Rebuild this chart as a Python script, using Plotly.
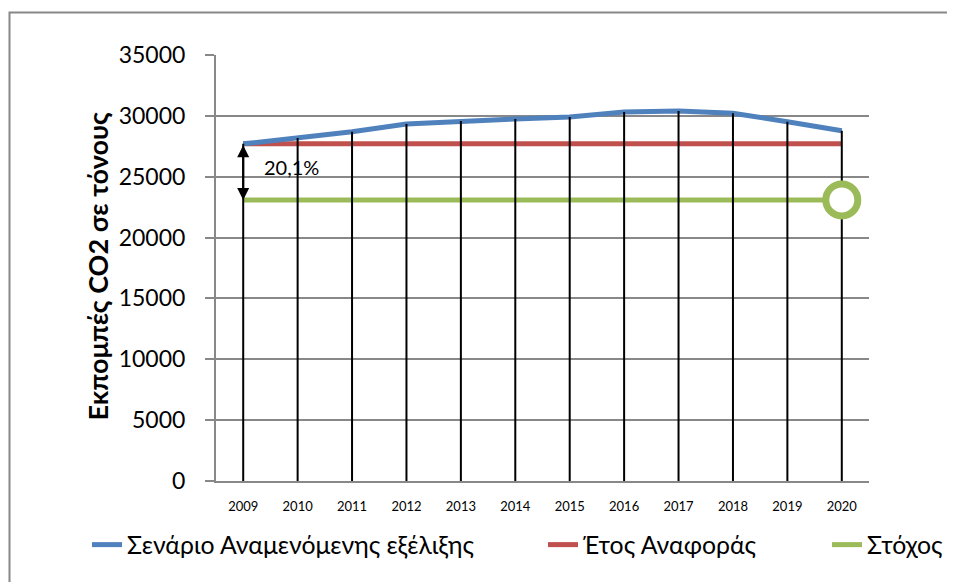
import plotly.graph_objects as go

YEARS = ["2009", "2010", "2011", "2012", "2013", "2014", "2015", "2016", "2017", "2018", "2019", "2020"]
SCENARIO = [27700, 28180, 28700, 29330, 29580, 29740, 29900, 30320, 30400, 30210, 29520, 28780]
REFERENCE = [27700, 27700, 27700, 27700, 27700, 27700, 27700, 27700, 27700, 27700, 27700, 27700]
TARGET = [23090, 23090, 23090, 23090, 23090, 23090, 23090, 23090, 23090, 23090, 23090, 23090]
Y_TICKS = [0, 5000, 10000, 15000, 20000, 25000, 30000, 35000]
NAMES = ["Σενάριο Αναμενόμενης εξέλιξης", "Έτος Αναφοράς", "Στόχος"]
Y_TITLE = "Εκπομπές CO2 σε τόνους"
GAP_LABEL = "20,1%"

BLUE = "#4F81BD"
RED = "#C0504D"
GREEN = "#9BBB59"
GRID = "#888888"
FONT = "Lato"

OFF = 8  # default page body margin
W, H = 955 - OFF, 582 - OFF
L, R, T, B = 216 - OFF, 869 - OFF, 55 - OFF, 481 - OFF  # plot area in figure pixels


def px(x):
    return (x - OFF - L) / (R - L)


def py(y):
    return (B - (y - OFF)) / (B - T)


idx = list(range(len(YEARS)))

fig = go.Figure()

fig.add_trace(go.Scatter(x=idx, y=TARGET, mode="lines", name=NAMES[2], legend="legend3",
                         line=dict(color=GREEN, width=5)))
fig.add_trace(go.Scatter(x=idx, y=REFERENCE, mode="lines", name=NAMES[1], legend="legend2",
                         line=dict(color=RED, width=5)))
fig.add_trace(go.Scatter(x=idx, y=SCENARIO, mode="lines", name=NAMES[0], legend="legend",
                         line=dict(color=BLUE, width=5)))

# drop lines from axis to scenario values
dx, dy = [], []
for i, v in zip(idx, SCENARIO):
    dx += [i, i, None]
    dy += [0, v, None]
fig.add_trace(go.Scatter(x=dx, y=dy, mode="lines", showlegend=False, hoverinfo="skip",
                         line=dict(color="black", width=2)))

# target marker at final year
fig.add_trace(go.Scatter(x=[idx[-1]], y=[TARGET[-1]], mode="markers", showlegend=False,
                         marker=dict(size=32, color="white", symbol="circle",
                                     line=dict(color=GREEN, width=7))))

# double arrow between reference and target at first year
fig.add_annotation(x=idx[0], y=TARGET[0], ax=idx[0], ay=REFERENCE[0], xref="x", yref="y",
                   axref="x", ayref="y", text="", showarrow=True, arrowhead=2,
                   arrowside="end+start", arrowwidth=2, arrowsize=1.2, arrowcolor="black")
fig.add_annotation(x=0.88, y=(REFERENCE[0] + TARGET[0]) / 2 + 400, xref="x", yref="y",
                   text=GAP_LABEL, showarrow=False, font=dict(family=FONT, size=20, color="black"))

# y-axis title
fig.add_annotation(x=px(78), y=py(266), xref="paper", yref="paper", text="<b>" + Y_TITLE + "</b>",
                   textangle=-90, showarrow=False, font=dict(family=FONT, size=27, color="black"))

# outer chart border
fig.add_shape(type="rect", xref="paper", yref="paper", x0=px(9.5), x1=px(975), y0=py(600), y1=py(12.5),
              line=dict(color=GRID, width=2), layer="below")

legend_common = dict(orientation="h", xref="container", xanchor="left", y=py(545), yanchor="middle",
                     font=dict(family=FONT, size=24.8, color="black"), bgcolor="rgba(0,0,0,0)")

fig.update_layout(
    width=W, height=H,
    margin=dict(l=L, r=W - R, t=T, b=H - B, autoexpand=False),
    paper_bgcolor="white", plot_bgcolor="white",
    font=dict(family=FONT, color="black"),
    showlegend=True,
    legend=dict(x=(87 - OFF) / W, **legend_common),
    legend2=dict(x=(543 - OFF) / W, **legend_common),
    legend3=dict(x=(827 - OFF) / W, **legend_common),
    xaxis=dict(range=[-0.5, len(YEARS) - 0.5], tickvals=idx, ticktext=YEARS,
               showgrid=False, zeroline=False, showline=True, linecolor=GRID, linewidth=2,
               ticks="", tickfont=dict(family=FONT, size=13, color="black"),
               ticklabelstandoff=12, fixedrange=True),
    yaxis=dict(range=[0, 35000], tickvals=Y_TICKS, tickformat="d", showgrid=True, gridcolor=GRID,
               gridwidth=1.5, zeroline=False, showline=True, linecolor=GRID, linewidth=2,
               ticks="outside", ticklen=9, tickcolor=GRID, tickwidth=1.5,
               tickfont=dict(family=FONT, size=23, color="black"), ticklabelstandoff=15,
               fixedrange=True),
)

fig.write_html("out.html")
